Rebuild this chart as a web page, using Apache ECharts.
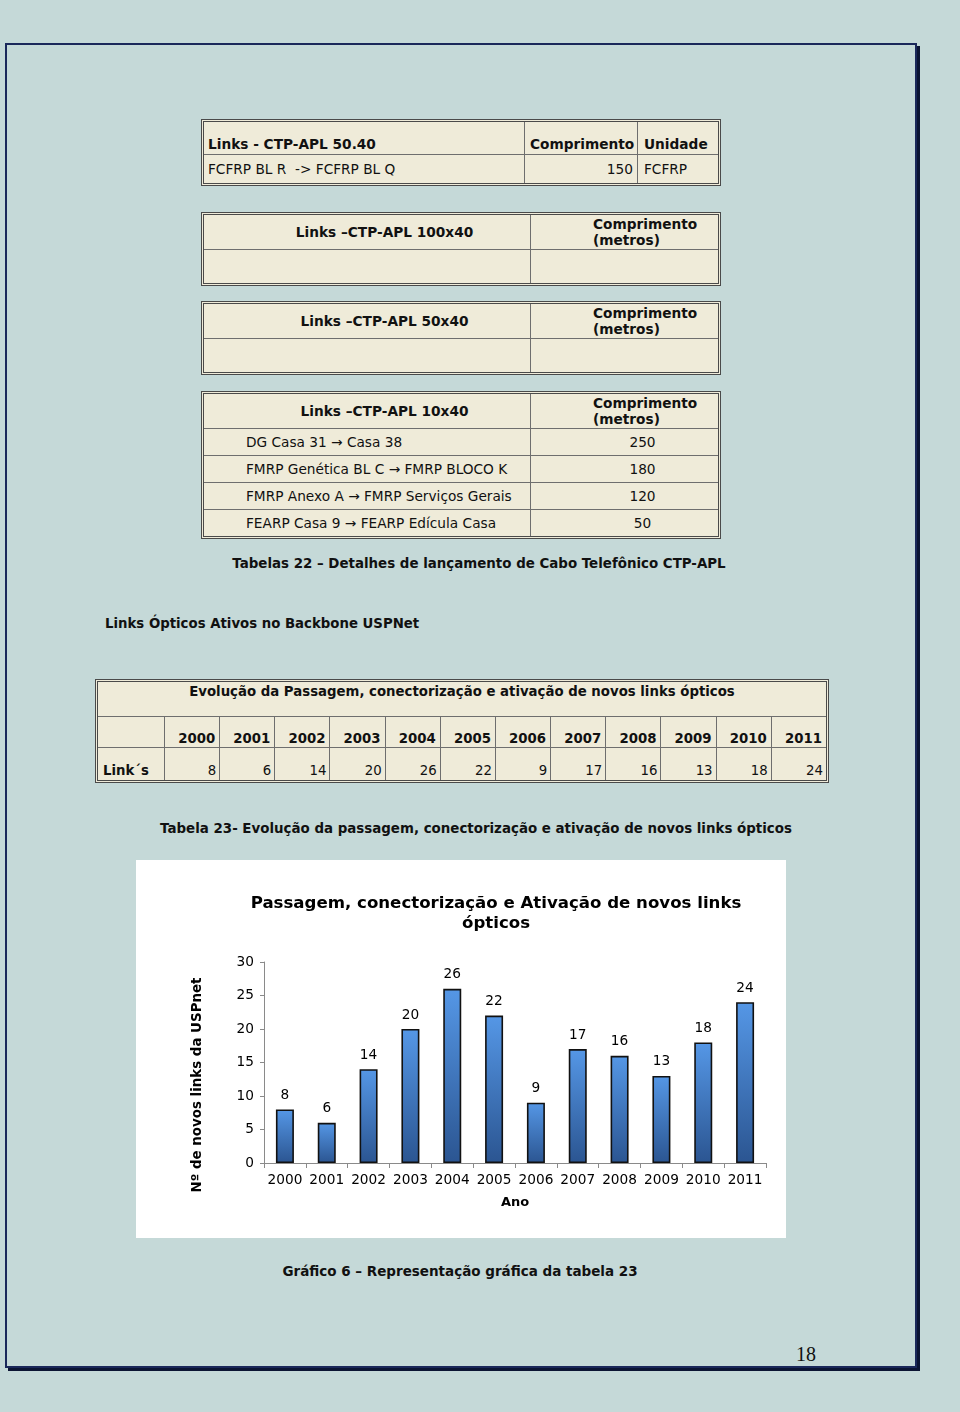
<!DOCTYPE html>
<html>
<head>
<meta charset="utf-8">
<script src="https://cdn.jsdelivr.net/npm/echarts/dist/echarts.min.js"></script>
<style>
  html, body { margin:0; padding:0; }
  body { width:960px; height:1412px; background:#c5d9d8; position:relative; overflow:hidden;
         font-family:"DejaVu Sans", Verdana, sans-serif; color:#111; }
  .frame { position:absolute; left:5px; top:43px; width:908px; height:1321px;
           border:2px solid #1a285a; box-shadow:3px 3px 0 #0b1433; }
  table.t { position:absolute; box-sizing:border-box; border-collapse:separate; border-spacing:0;
            table-layout:fixed; background:#efebd9; font-size:13.7px; border:3px double #4a4a4a; }
  table.t5 { font-size:13.3px; }
  table.t td { padding:0; border-left:1px solid #6e6e6e; border-top:1px solid #6e6e6e;
               white-space:pre; overflow:hidden; line-height:16px; }
  table.t tr td:first-child { border-left:none; }
  table.t tr:first-child td { border-top:none; }
  .b { font-weight:bold; }
  .cap { position:absolute; font-weight:bold; font-size:13.4px; line-height:16px; white-space:nowrap; color:#111; }
  #chart { position:absolute; left:136px; top:860px; width:650px; height:378px; background:#fff; }
  .pg { position:absolute; left:786px; top:1341px; width:40px; text-align:center;
        font-family:"Liberation Serif", "Times New Roman", serif; font-size:20px; line-height:26px; color:#111; }
</style>
</head>
<body>
<div class="frame"></div>
<div id="tables"></div>
<div class="cap" style="left:179px;top:556px;width:600px;text-align:center;">Tabelas 22 – Detalhes de lançamento de Cabo Telefônico CTP-APL</div>
<div class="cap" style="left:105px;top:616px;font-size:13.3px;">Links Ópticos Ativos no Backbone USPNet</div>
<div class="cap" style="left:76px;top:821px;width:800px;text-align:center;">Tabela 23- Evolução da passagem, conectorização e ativação de novos links ópticos</div>
<div id="chart"></div>
<div class="cap" style="left:160px;top:1263px;width:600px;text-align:center;font-size:13.5px;">Gráfico 6 – Representação gráfica da tabela 23</div>
<div class="pg">18</div>

<script>
// ---------- data ----------
var t1Header = ['Links - CTP-APL 50.40', 'Comprimento', 'Unidade'];
var t1Links = ['FCFRP BL R  -> FCFRP BL Q'];
var t1Lengths = [150];
var t1Units = ['FCFRP'];

var t2Title = 'Links –CTP-APL 100x40';
var t3Title = 'Links –CTP-APL 50x40';
var t4Title = 'Links –CTP-APL 10x40';
var lengthHeader = 'Comprimento\n(metros)';

var t4Links = ['DG Casa 31 → Casa 38', 'FMRP Genética BL C → FMRP BLOCO K',
               'FMRP Anexo A → FMRP Serviços Gerais', 'FEARP Casa 9 → FEARP Edícula Casa'];
var t4Lengths = [250, 180, 120, 50];

var t5Title = 'Evolução da Passagem, conectorização e ativação de novos links ópticos';
var rowLabel = 'Link´s';
var years = ['2000','2001','2002','2003','2004','2005','2006','2007','2008','2009','2010','2011'];
var links = [8, 6, 14, 20, 26, 22, 9, 17, 16, 13, 18, 24];

var chartTitle = 'Passagem, conectorização e Ativação de novos links\nópticos';
var yAxisTitle = 'Nº de novos links da USPnet';
var xAxisTitle = 'Ano';
var yTicks = {min:0, max:30, interval:5};

// ---------- tables ----------
function esc(s){ return String(s).replace(/&/g,'&amp;').replace(/</g,'&lt;').replace(/>/g,'&gt;'); }
var html = '';

// Table 1
html += '<table class="t" style="left:201px;top:119px;width:520px;">'
  + '<colgroup><col style="width:320px"><col style="width:113px"><col style="width:81px"></colgroup>'
  + '<tr style="height:32px">'
  + '<td class="b" style="vertical-align:bottom;padding:0 4px 2px 4px;">' + esc(t1Header[0]) + '</td>'
  + '<td class="b" style="vertical-align:bottom;padding:0 2px 2px 5px;">' + esc(t1Header[1]) + '</td>'
  + '<td class="b" style="vertical-align:bottom;padding:0 2px 2px 6px;">' + esc(t1Header[2]) + '</td></tr>';
for (var i=0;i<t1Links.length;i++){
  html += '<tr style="height:29px">'
    + '<td style="vertical-align:middle;padding-left:4px;">' + esc(t1Links[i]) + '</td>'
    + '<td style="vertical-align:middle;text-align:right;padding-right:4px;">' + t1Lengths[i] + '</td>'
    + '<td style="vertical-align:middle;padding-left:6px;">' + esc(t1Units[i]) + '</td></tr>';
}
html += '</table>';

function lenTable(top, title, names, vals){
  var h = '<table class="t" style="left:201px;top:' + top + 'px;width:520px;">'
    + '<colgroup><col style="width:326px"><col style="width:188px"></colgroup>'
    + '<tr style="height:34px">'
    + '<td class="b" style="vertical-align:middle;text-align:center;padding-left:35px;">' + esc(title) + '</td>'
    + '<td class="b" style="vertical-align:top;padding:1px 0 0 62px;">' + esc(lengthHeader) + '</td></tr>';
  if (names.length === 0) {
    h += '<tr style="height:34px"><td></td><td></td></tr>';
  } else {
    for (var i=0;i<names.length;i++){
      h += '<tr style="height:27px">'
        + '<td style="vertical-align:middle;padding-left:42px;">' + esc(names[i]) + '</td>'
        + '<td style="vertical-align:middle;text-align:center;padding-left:36px;">' + vals[i] + '</td></tr>';
    }
  }
  return h + '</table>';
}
html += lenTable(212, t2Title, [], []);
html += lenTable(301, t3Title, [], []);
html += lenTable(391, t4Title, t4Links, t4Lengths);

// Table 5
html += '<table class="t t5" style="left:95px;top:679px;width:734px;">'
  + '<colgroup><col style="width:66px">';
for (var j=0;j<years.length;j++) html += '<col>';
html += '</colgroup>'
  + '<tr style="height:34px"><td class="b" colspan="' + (years.length+1) + '" style="vertical-align:top;text-align:center;padding-top:2px;">' + esc(t5Title) + '</td></tr>'
  + '<tr style="height:31px"><td></td>';
for (var j=0;j<years.length;j++) html += '<td class="b" style="vertical-align:bottom;text-align:right;padding-right:4px;">' + years[j] + '</td>';
html += '</tr><tr style="height:33px"><td class="b" style="vertical-align:bottom;padding-left:5px;padding-bottom:2px;line-height:15px;">' + esc(rowLabel) + '</td>';
for (var j=0;j<links.length;j++) html += '<td style="vertical-align:bottom;text-align:right;padding-right:3px;padding-bottom:2px;line-height:15px;">' + links[j] + '</td>';
html += '</tr></table>';

document.getElementById('tables').innerHTML = html;

// ---------- chart ----------
var FONT = '"DejaVu Sans", Verdana, sans-serif';
var chart = echarts.init(document.getElementById('chart'), null, {renderer:'canvas'});
chart.setOption({
  animation: false,
  backgroundColor: '#ffffff',
  title: {
    text: chartTitle, left: 355, top: 29, textAlign: 'center',
    textStyle: { fontFamily: FONT, fontWeight: 'bold', fontSize: 16.6, lineHeight: 20, color: '#000' }
  },
  grid: { left: 128, right: 20, top: 102, bottom: 75 },
  xAxis: {
    type: 'category', data: years,
    axisLine: { lineStyle: { color: '#8a8a8a', width: 1 } },
    axisTick: { show: true, length: 5, lineStyle: { color: '#8a8a8a' } },
    axisLabel: { color: '#000', fontSize: 13.7, fontFamily: FONT, margin: 10, interval: 0 },
    name: xAxisTitle, nameLocation: 'middle', nameGap: 33,
    nameTextStyle: { color: '#000', fontWeight: 'bold', fontSize: 13, fontFamily: FONT }
  },
  yAxis: {
    type: 'value', min: yTicks.min, max: yTicks.max, interval: yTicks.interval,
    axisLine: { show: true, lineStyle: { color: '#8a8a8a', width: 1 } },
    axisTick: { show: true, length: 4, lineStyle: { color: '#8a8a8a' } },
    splitLine: { show: false },
    axisLabel: { color: '#000', fontSize: 13.7, fontFamily: FONT, margin: 10 }
  },
  series: [{
    type: 'bar', data: links, barWidth: 18,
    itemStyle: {
      color: new echarts.graphic.LinearGradient(0, 0, 0, 1, [
        { offset: 0, color: '#5597e6' }, { offset: 1, color: '#2b5591' }
      ]),
      borderColor: '#111', borderWidth: 1.6
    },
    label: { show: true, position: 'top', distance: 7, color: '#000', fontSize: 13.7, fontFamily: FONT }
  }],
  graphic: [{
    type: 'text', x: 62, y: 225, rotation: Math.PI / 2,
    style: { text: yAxisTitle, align: 'center', verticalAlign: 'middle',
             font: 'bold 13.4px "DejaVu Sans", Verdana, sans-serif', fill: '#000' }
  }]
});
</script>
</body>
</html>
